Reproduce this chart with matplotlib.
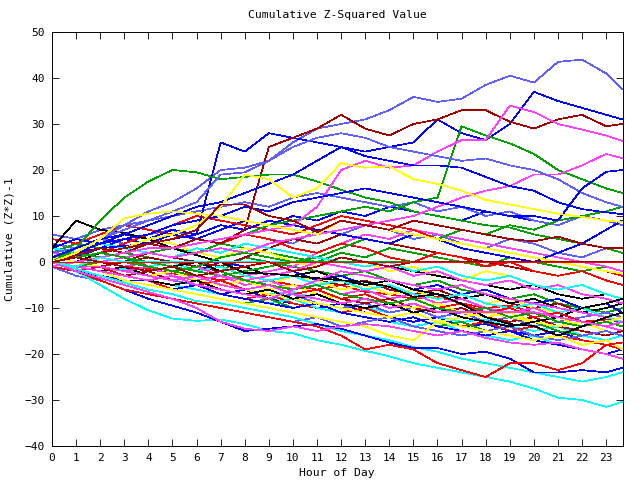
import matplotlib
matplotlib.use("Agg")
import matplotlib.pyplot as plt

# hours sampled (last point is 23:40)
hours = [0, 1, 2, 3, 4, 5, 6, 7, 8, 9, 10, 11, 12, 13, 14, 15, 16, 17, 18, 19, 20, 21, 22, 23, 23.67]

# --- outlier runs ---
lb_top = [1, 3, 5, 8, 11, 13, 16, 20, 20.5, 22, 26, 29, 30, 31, 33, 35.9, 34.8, 35.5, 38.5, 40.5, 39, 43.5, 44, 41, 37.6]
blue_jump = [0, 2, 3, 3.5, 4, 5, 6, 26, 24, 28, 27, 26, 25, 24, 25, 26, 31, 28, 26.5, 30, 37, 35, 33.5, 32, 31]
dred_jump = [0, 1.5, 3, 2, 4, 3, 5, 4, 7, 25, 27, 29, 32, 29, 27.5, 30, 31, 33, 33, 30.5, 29, 31, 32, 29.5, 30]
green_hi = [0, 3, 9, 14, 17.5, 20, 19.5, 18, 18.5, 19, 19, 17.5, 15.7, 14, 13, 11, 10, 9, 8, 7.5, 6, 5, 4, 3, 2]
green_jump = [0, -1, 0, 1, 2, 3, 4, 5, 6, 8, 9, 10, 11, 12, 11, 13, 14, 29.5, 27.5, 25.8, 23.5, 20, 18, 16, 15]
mag_hi = [-1, 0, 1, 2, 3, 3, 4, 5, 6, 7, 8, 12, 20, 22, 20.5, 21, 24, 26.5, 26.5, 34, 32.6, 30, 28.8, 27.5, 26.3]
mag_late = [0, 1, 0, 1, 2, 1, 2, 3, 2, 4, 5, 6, 7, 8, 9, 10, 12, 14, 15.5, 16.5, 19, 19, 21, 23.5, 22.6]
lb_second = [2, 3, 5, 7, 9, 11, 13, 19, 19.5, 22, 25, 27, 28, 27, 25, 24, 23, 22, 22.5, 21, 20, 18, 15, 13, 12]
blue_late = [0, 2, 4, 5, 6, 8, 9, 10, 12, 11, 13, 14, 15, 16, 15, 14, 13, 12, 11, 10, 10, 9, 16, 19.6, 20]
blue_slide = [1, 3, 5, 6, 8, 10, 12, 13, 15, 17, 19, 22, 25, 23, 22, 21, 21, 20.5, 18.5, 16.5, 15.5, 13, 11.5, 10.8, 10.4]
yel_hi = [0, 1, 2, 3, 5, 6, 8, 12, 19, 18, 14, 16, 21.5, 20.5, 20.8, 18, 17, 15.5, 13.5, 12.5, 11.5, 10.5, 9.8, 9, 8.7]
yel_early = [0, 2, 5, 9.5, 10.5, 11, 10.5, 10, 9, 8, 7, 6, 9, 8, 7, 6, 5, 4, 3, 2, 1, 0, -1, -2, -2.5]
dred_mid = [0, 1, 2, 3, 4, 5, 7, 12.5, 12.5, 10, 9, 6.5, 9, 8, 7, 9, 8, 7, 6, 5, 4.5, 5.5, 4, 3, 3]
cyan_low = [0, -2, -5, -8, -10.5, -12.3, -12.8, -12.5, -13.5, -15, -15.5, -17, -18, -19.3, -20.5, -22, -23, -24, -25, -26, -27.5, -29.5, -30, -31.5, -30.4]
cyan_low2 = [0, -1.5, -3, -4.5, -6, -7, -8.5, -9, -10, -11, -12, -13.5, -15, -16, -17, -18.5, -19.5, -21, -22, -23, -24, -25, -26, -25, -24]
blue_low = [0, -2, -4, -6, -8, -9.5, -11, -13, -15, -14.5, -14, -13.5, -14.5, -16, -17.5, -18.7, -18.7, -20, -19.5, -21, -24, -24, -23.5, -24, -23]
red_low = [0, -2, -4, -6, -7, -8, -9, -10, -11, -12, -13, -14, -16, -19, -18, -19, -22, -23.5, -25, -22, -22, -23.5, -22, -18, -17.5]
mag_low = [0, -2, -3.5, -5, -6.5, -8, -10, -13, -14.5, -15, -14, -15, -14, -13.5, -14, -15, -16, -15, -16.5, -17.5, -18, -17.5, -19, -20, -21]

# --- main bundle ---
s01 = [2, 1, 0, -1, -1.5, -2.5, -3, -4, -3, -4, -5, -6, -5, -6.5, -7, -8, -7.5, -9, -10, -9.5, -11, -12, -13, -12.5, -13]
s02 = [0, 1, 3, 2, 1, 0, -1, -2, 1, 0, -1, -2, -3, -2, -4, -5, -4, -6, -7, -8, -7, -9, -10, -11, -10]
s03 = [-1, -2, -3, -4, -4, -5, -6, -7, -6, -8, -9, -10, -9, -11, -12, -13, -12, -14, -13.5, -15, -16, -15, -17, -18, -17.5]
s04 = [0, -1, -1, -2, -3, -4, -3, -5, -6, -5, -7, -8, -9, -8, -10, -9, -10.9, -10.9, -10.9, -10.9, -10.9, -12, -13, -14, -13]
s05 = [0, -1, -2, -1.5, -3, -4, -5, -4, -6, -7, -6.5, -8, -9, -10, -11, -10, -12, -13, -12.5, -14, -15, -14, -16, -17, -16]
s06 = [3, 2, 1, 0, 1, 0, -1, -2, -1, -3, -2, -4, -5, -4, -6, -7, -6, -8, -7, -9, -10, -9, -11, -12, -11]
s07 = [4, 3, 5, 4, 6, 7, 5, 4, 6, 5, 4, 7, 6, 8, 7, 5, 6, 4, 3, 5, 4, 2, 1, 3, 2]
s08 = [1, 2, 0, -1, -2, -1, -3, -2, -4, -5, -3, -4, -6, -5, -7, -6, -8, -7, -9, -8, -10, -11, -10, -12, -13]
s09 = [3, 9, 7, 6.3, 5, 3, 1.5, 0, -2.4, -2.5, -3, -3.5, -4, -4.3, -5.4, -7.6, -7, -9.1, -12, -13.5, -13.9, -16, -14, -12, -11]
s10 = [0, -1, -2, -3, -4, -6, -5, -7, -8, -7, -9, -10, -11, -10, -12, -11, -13, -14, -13, -15, -14, -16, -17, -18, -19]
s11 = [2, 4, 3, 5, 4, 3, 2, 4, 3, 2, 1, 0, 2, 1, 3, 2, 1, 0, -1, 1, 0, -1, -2, -1, -2]
s12 = [1, 0, 2, 1, 0, -1, -2, 0, -1, -3, -2, -4, -3, -5, -4, -6, -5, -7, -6, -8, -9, -8, -10, -9, -11]
s13 = [0, 1, 0, -1, 0, -1, -2, -1, -3, -2, -1, 2, 4, 6, 5, 7, 6, 5, 4, 3, 2, 1, 0, -1, -2]
s14 = [0, -1, -2, -3, -4, -5, -6, -7, -8, -9, -8, -10, -11, -12, -13, -14, -13, -15, -16, -17, -16, -18, -19, -20, -19]
s16 = [1, 0, -1, 0, 2, 1, 0, -1, 1, 3, 5, 4, 6, 5, 4, 3, 2, 1, 0, -1, -2, -3, -2, -4, -5]
s17 = [0, -1, -2, -3, -2, -4, -5, -6, -7, -8, -7, -9, -10, -9, -11, -10, -12, -11, -13, -12, -14, -13, -12, -11, -12]
s18 = [2, 3, 4, 3, 5, 4, 2, 1, 3, 2, 0, -1, 1, 0, -2, -1, -3, -4, -2, -3, -5, -6, -5, -7, -8]
s19 = [0, -1, -2, -1, -3, -2, -4, -3, -5, -4, -3, -2, -4, -5, -4, -6, -7, -8, -7, -9, -8, -10, -11, -10, -9]
s20 = [5, 4, 6, 8, 7, 6, 5, 4, 6, 5, 3, 2, 4, 3, 1, 0, 2, 1, -1, 0, -2, -3, -2, -4, -5]
s21 = [-1, -2, -3, -4, -5, -6, -7, -8, -9, -8, -10, -9, -11, -12, -13, -12, -14, -13, -15, -14, -13, -15, -16, -15, -16]
s22 = [2, 1, 3, 5, 4, 6, 5, 7, 9, 8, 10, 9, 11, 10, 12, 11, 10, 9, 11, 10, 9, 8, 10, 9, 8]
s23 = [1, 0, -1, -2, -1, -3, -4, -3, -5, -4, -6, -5, -7, -6, -8, -7, -9, -8, -10, -11, -10, -12, -13, -14, -15]
s24 = [1, 2, 1, 0, -1, 0, -2, -1, -3, -4, -3, -5, -4, -6, -5, -7, -8, -7, -9, -10, -9, -11, -10, -12, -13]
s25 = [0, -1, -2, -3, -2, -4, -3, -5, -6, -5, -7, -6, -8, -9, -8, -10, -11, -10, -12, -13, -12, -14, -15, -16, -15]
s26 = [6, 5, 7, 8, 9, 10, 11, 12, 13, 12, 14, 15, 14, 13, 12, 13, 11, 12, 10, 11, 9, 8, 10, 9, 8]
s27 = [0, -1, -1, -2, -3, -2, -4, -5, -4, -6, -5, -7, -8, -7, -9, -10, -9, -11, -12, -11, -13, -14, -13, -15, -16]
s28 = [1, 0, 2, 1, 0, -1, 0, -2, -1, -3, -2, -1, 1, 0, -1, -2, -3, -4, -5, -6, -5, -7, -8, -7, -8]
s29 = [0, 1, 2, 4, 6, 8, 10, 9, 8, 7, 6, 8, 10, 9, 8, 7, 5, 4, 3, 2, 1, 0, -1, -2, -3]
s30 = [0, -1, 0, 1, 0, -1, -2, -3, -2, -1, 0, 1, 3, 5, 4, 6, 5, 7, 6, 8, 7, 9, 10, 11, 12]
s31 = [-1, -2, -3, -4, -5, -6, -5, -7, -8, -9, -10, -9, -11, -12, -13, -12, -14, -15, -16, -15, -17, -18, -19, -20, -19]
s32 = [2, 1, 0, 1, -1, -2, -1, -3, -4, -3, -2, 0, -1, -2, -1, -3, -2, -4, -5, -4, -6, -5, -7, -8, -9]
s33 = [3, 2, 4, 3, 2, 1, 3, 2, 4, 3, 2, 1, 0, -1, 0, -2, -1, -3, -4, -3, -5, -6, -5, -7, -8]
s35 = [-1, -3, -4, -6, -7, -8, -9, -10, -11, -12, -13, -12, -14, -13, -12, -14, -15, -16, -15, -14, -16, -17, -16, -15, -16]
s36 = [1, 0, -1, -2, -3, -4, -3, -5, -6, -7, -8, -9, -10, -11, -12, -11, -13, -14, -15, -16, -17, -16, -18, -17, -19]
s37 = [0, -1, -2, -4, -5, -6, -7, -8, -9, -10, -11, -12, -13, -14, -16, -17, -13, -12, -11, -12, -13, -12, -14, -13, -12]
s38 = [0, -1, -2, -3, -4, -5, -4, -6, -7, -6, -8, -7, -9, -10, -9, -11, -10, -12, -13, -14, -13, -12, -10, -9, -8]
s39 = [-1, -2, -1, -3, -4, -3, -5, -4, -6, -5, -7, -6, -8, -7, -9, -8, -10, -9, -11, -10, -12, -11, -13, -14, -13]
s40 = [3, 5, 4, 6, 5, 7, 6, 8, 7, 9, 8, 7, 6, 5, 4, 6, 5, 3, 2, 1, 0, 2, 4, 7, 9]
s41 = [1, 2, 1, 0, -1, -2, -3, -2, -4, -5, -6, -5, -7, -8, -9, -8, -10, -11, -10, -12, -11, -13, -14, -13, -14]
s42 = [0, -1, -2, -3, -4, -3, -5, -6, -7, -8, -6, -4, -2, -3, -4, -5, -6, -5, -7, -8, -9, -10, -11, -12, -11]

# runs that stop moving and sit on zero
dred_flat = [0, 1, 0, -1, -2, -1, -3, -2, -1, 0, -2, -1, 1, 0, -1, 0, 0, 0, 0, 0, 0, 0, 0, 0, 0]
green_flat = [0, 1, 2, 1, -1, -2, -1, 1, 2, 1, 0, 0, 0, 0, 0, 0, 0, 0, 0, 0, 0, 0, 0, 0, 0]
cyan_flat = [0, -1, 1, 0, 0, 0, 0, 0, 0, 0, 0, 0, 0, 0, 0, 0, 0, 0, 0, 0, 0, 0, 0, 0, 0]
red_flat = [0, 0, 0, 0, 0, 0, 0, 0, 0, 0, 0, 0, 0, 0, 0, 0, 0, 0, 0, 0, 0, 0, 0, 0, 0]

RED = "#ff0000"
GRN = "#00a000"
BLU = "#0000ff"
MAG = "#ff40ff"
CYN = "#00ffff"
DRD = "#a00000"
LBL = "#6060ff"
YEL = "#ffff00"
BLK = "#000000"

runs = [
    (s01, RED), (s02, GRN), (s03, BLU), (s05, CYN), (s06, DRD), (s07, LBL),
    (s08, YEL), (s10, RED), (s11, GRN), (s12, BLU), (s13, MAG), (s14, CYN),
    (s16, DRD), (s17, LBL), (s18, YEL), (s19, BLK), (s20, RED), (s21, GRN),
    (s22, BLU), (s23, MAG), (s24, CYN), (s25, DRD), (s26, LBL), (s27, YEL),
    (s28, BLK), (s29, RED), (s30, GRN), (s31, BLU), (s32, MAG), (s33, CYN),
    (s35, LBL), (s36, YEL), (s37, YEL), (s38, BLK), (s39, RED), (s40, BLU),
    (s41, GRN), (s42, MAG), (s09, BLK), (s04, MAG),
    (lb_top, LBL), (blue_jump, BLU), (dred_jump, DRD), (green_hi, GRN),
    (green_jump, GRN), (mag_hi, MAG), (mag_late, MAG), (lb_second, LBL),
    (blue_late, BLU), (blue_slide, BLU), (yel_hi, YEL), (yel_early, YEL),
    (dred_mid, DRD), (cyan_low, CYN), (cyan_low2, CYN), (blue_low, BLU),
    (red_low, RED), (mag_low, MAG),
    (cyan_flat, CYN), (green_flat, GRN), (dred_flat, DRD), (red_flat, RED),
]

plt.rcParams['font.family'] = ['DejaVu Sans Mono']
fig = plt.figure(figsize=(6.4, 4.8), dpi=100)
ax = fig.add_axes([52/640, 1-446/480, (623-52)/640, (446-32)/480])

for vals, col in runs:
    ax.plot(hours, vals, color=col, lw=0.5, antialiased=False)

ax.set_xlim(0, 23.7)
ax.set_ylim(-40, 50)
ax.set_xticks(range(0, 24))
ax.set_yticks(range(-40, 51, 10))
ax.tick_params(direction="in", length=5, width=0.6, top=True, right=True,
               labelsize=8, pad=5)
for sp in ax.spines.values():
    sp.set_linewidth(0.7)

fig.text(337/640, 1-15/480, "Cumulative Z-Squared Value", ha="center", va="center", fontsize=8.2)
fig.text(337/640, 1-473/480, "Hour of Day", ha="center", va="center", fontsize=8.2)
fig.text(10/640, 1-239/480, "Cumulative (Z*Z)-1", ha="center", va="center", rotation=90, fontsize=8.2)

fig.savefig("out.png", dpi=100)
